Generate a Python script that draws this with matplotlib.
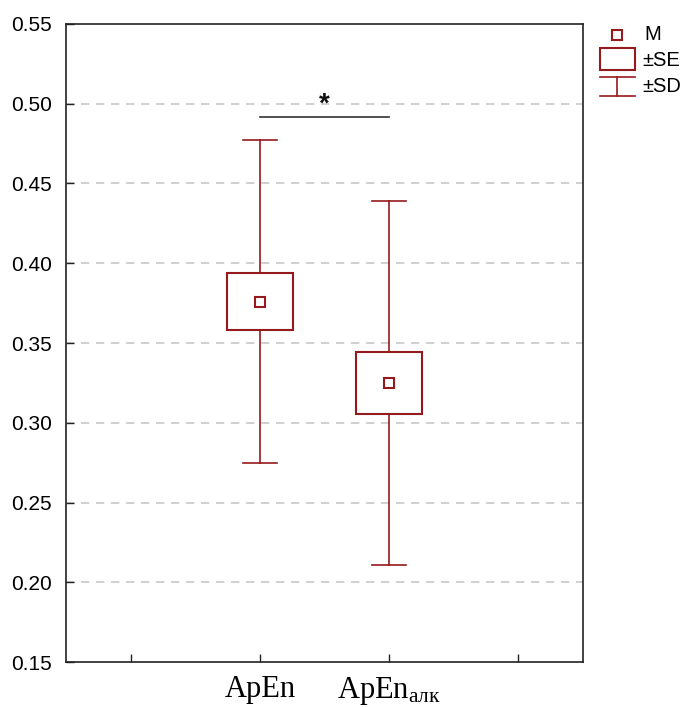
#!/usr/bin/env python3

import matplotlib
matplotlib.use("Agg")
import matplotlib.pyplot as plt
from matplotlib.lines import Line2D
from matplotlib.patches import Rectangle

# data (mean, standard error, standard deviation)
groups = ["ApEn", "ApEn_алк"]
means = [0.376, 0.325]
se = [0.0176, 0.0194]
sd = [0.1010, 0.1142]
sig_level = 0.4917  # bracket between the two groups
y_ticks = [0.15, 0.20, 0.25, 0.30, 0.35, 0.40, 0.45, 0.50, 0.55]

RED = "#951a1e"

plt.rcParams.update(
    {
        "font.family": "Liberation Sans",
        "mathtext.fontset": "custom",
        "mathtext.rm": "Liberation Serif",
    }
)

fig = plt.figure(figsize=(6.85, 7.07), dpi=100)
ax = fig.add_axes([0.0964, 0.0636, 0.7547, 0.9025])

positions = [1.5, 2.5]
box_w = 0.51
cap_w = 0.26
for x, m, e, d in zip(positions, means, se, sd):
    # whisker (+-SD) drawn in two halves so the box stays empty
    ax.plot([x, x], [m + e, m + d], color=RED, lw=1.2, zorder=3)
    ax.plot([x, x], [m - d, m - e], color=RED, lw=1.2, zorder=3)
    ax.plot([x - cap_w / 2, x + cap_w / 2], [m + d, m + d], color=RED, lw=1.2, zorder=3)
    ax.plot([x - cap_w / 2, x + cap_w / 2], [m - d, m - d], color=RED, lw=1.2, zorder=3)
    ax.add_patch(
        Rectangle((x - box_w / 2, m - e), box_w, 2 * e, facecolor="white",
                  edgecolor=RED, lw=1.5, zorder=3)
    )
    ax.plot([x], [m], marker="s", ms=7, mfc="white", mec=RED, mew=1.5, zorder=4)

# significance bar
ax.plot(positions, [sig_level, sig_level], color="#333333", lw=1.2, zorder=3)
ax.text(sum(positions) / 2, sig_level + 0.008, "*", ha="center", va="center",
        fontsize=20, fontweight="bold", color="#111111", zorder=4)

ax.set_xlim(0, 4)
ax.set_ylim(0.15, 0.55)
ax.set_xticks([0.5, 1.5, 2.5, 3.5])
ax.set_xticklabels(["", "ApEn", r"$\mathregular{ApEn_{алк}}$", ""],
                   fontfamily="Liberation Serif", fontsize=22)
ax.set_yticks(y_ticks)
ax.set_yticklabels([f"{v:.2f}" for v in y_ticks], fontsize=15)
ax.tick_params(axis="both", direction="in", length=6, width=1, color="#222222")
ax.tick_params(axis="x", pad=9)
ax.tick_params(axis="y", pad=10)

for v in y_ticks[1:-1]:
    ax.axhline(v, color="#c8c8c8", lw=1.2, ls=(0, (5, 4)), zorder=1)

for sp in ax.spines.values():
    sp.set_linewidth(1.2)
    sp.set_color("#222222")

# legend drawn by hand to the right of the axes
def fx(px):
    return px / 685


def fy(py):
    return 1 - py / 707


fig.add_artist(Line2D([fx(617)], [fy(35)], marker="s", ms=7, mfc="white",
                      mec=RED, mew=1.5, transform=fig.transFigure))
fig.text(fx(644), fy(35), "M", fontsize=14.5, va="center", ha="left")
fig.add_artist(Rectangle((fx(600), fy(70)), fx(35), 22 / 707, facecolor="white",
                         edgecolor=RED, lw=1.5, transform=fig.transFigure))
fig.text(fx(642), fy(60), "±SE", fontsize=14.5, va="center", ha="left")
fig.add_artist(Line2D([fx(600), fx(635)], [fy(77), fy(77)], color=RED, lw=1.2,
                      transform=fig.transFigure))
fig.add_artist(Line2D([fx(617), fx(617)], [fy(77), fy(96)], color=RED, lw=1.2,
                      transform=fig.transFigure))
fig.add_artist(Line2D([fx(600), fx(635)], [fy(96), fy(96)], color=RED, lw=1.2,
                      transform=fig.transFigure))
fig.text(fx(642), fy(87), "±SD", fontsize=14.5, va="center", ha="left")

fig.savefig("out.png", dpi=100)
